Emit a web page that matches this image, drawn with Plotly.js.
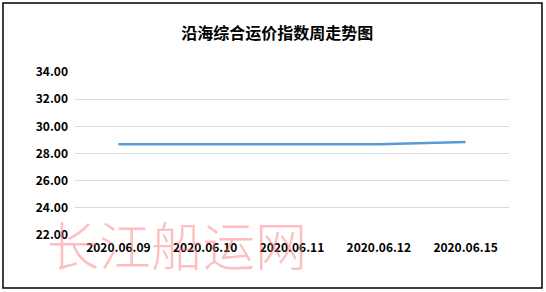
<!DOCTYPE html>
<html><head><meta charset="utf-8">
<script src="https://cdn.plot.ly/plotly-3.0.1.min.js"></script>
<style>html,body{margin:0;padding:0;background:#fff}#c{width:546px;height:292px}</style>
</head><body><div id="c"></div>
<script>
const categories = ["2020.06.09","2020.06.10","2020.06.11","2020.06.12","2020.06.15"];
const values = [28.69, 28.69, 28.69, 28.69, 28.84];
const yTicks = [22,24,26,28,30,32,34];
const yTickText = ["22.00","24.00","26.00","28.00","30.00","32.00","34.00"];
const titleText = "沿海综合运价指数周走势图";
const watermark = "长江船运网";

const tickFont = {family:"'Noto Sans CJK SC', 'DejaVu Sans', sans-serif", size:12, color:"#000", weight:700};
Plotly.newPlot("c", [{
  type:"scatter", mode:"lines", x:categories, y:values,
  line:{color:"#5b9bd5", width:2.5}, hoverinfo:"skip"
}], {
  width:546, height:292,
  margin:{l:75, r:37, t:72, b:57},
  paper_bgcolor:"#fff", plot_bgcolor:"#fff",
  showlegend:false,
  title:{text:titleText, x:0.508, xanchor:"center", y:0.885, yanchor:"middle",
    font:{family:"'Noto Sans CJK SC', sans-serif", size:16, color:"#000", weight:700}},
  xaxis:{type:"category", showgrid:false, zeroline:false, showline:false, ticks:"",
    tickfont:tickFont, ticklabelstandoff:4, range:[-0.5,4.5]},
  yaxis:{range:[22,34], tickvals:yTicks, ticktext:yTickText, showgrid:true, gridcolor:"#d9d9d9",
    gridwidth:1, zeroline:false, showline:false, ticks:"", tickfont:tickFont, ticklabelstandoff:6},
  shapes:[{type:"rect", xref:"paper", yref:"paper", x0:-0.1659, x1:1.076, y0:-0.325, y1:1.423,
    line:{color:"#000", width:1.5}, fillcolor:"rgba(0,0,0,0)"}],
  annotations:[{text:watermark, xref:"paper", yref:"paper", x:-0.068, y:-0.05, xanchor:"left", yanchor:"middle",
    showarrow:false, font:{family:"'Noto Sans CJK SC', sans-serif", size:52, color:"rgba(250,110,110,0.45)", weight:300}}]
}, {displayModeBar:false, staticPlot:true});
</script></body></html>
